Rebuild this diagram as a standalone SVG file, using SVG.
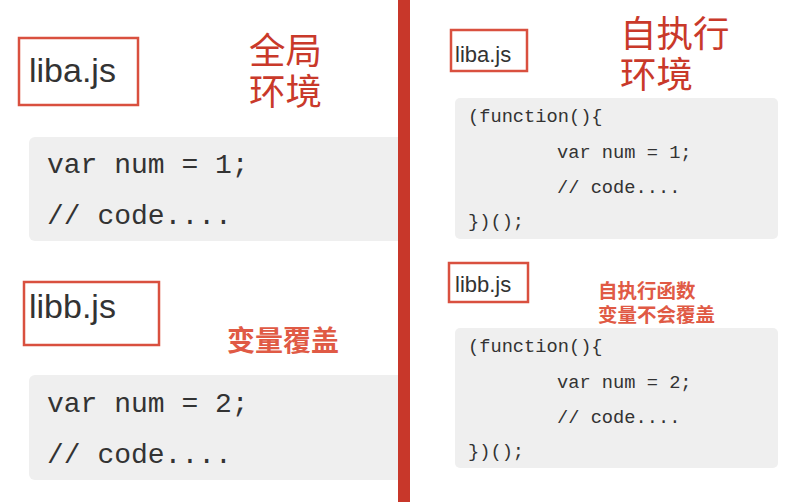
<svg xmlns="http://www.w3.org/2000/svg" width="798" height="502" viewBox="0 0 798 502">
<style>
.lbl{fill:none;stroke:#d9503f;stroke-width:2.5}
.file{font-family:"Liberation Sans",Arial,sans-serif;fill:#333}
.code{fill:#efefef}
.mono{font-family:"Liberation Mono","Courier New",monospace;fill:#333}
.big{font-family:"Liberation Sans","Noto Sans CJK SC",sans-serif;fill:#c9392a}
.note{font-family:"Liberation Sans","Noto Sans CJK SC",sans-serif;fill:#e05a45;font-weight:bold}
</style>
<rect width="798" height="502" fill="#fff"/>
<g id="left-liba">
<rect class="lbl" x="19" y="38" width="119" height="67"/>
<text class="file" x="29" y="82" font-size="34">liba.js</text>
</g>
<g id="left-title">
<text class="big" x="249" y="64" font-size="36.5">全局</text>
<text class="big" x="249" y="105" font-size="36.5">环境</text>
</g>
<g id="left-code1">
<rect class="code" x="29" y="137" width="375" height="104" rx="6"/>
<text class="mono" x="47" y="173" font-size="28">var num = 1;</text>
<text class="mono" x="47" y="224" font-size="28">// code....</text>
</g>
<g id="left-libb">
<rect class="lbl" x="24" y="282" width="135" height="63"/>
<text class="file" x="29" y="318" font-size="34">libb.js</text>
</g>
<g id="left-note">
<text class="note" x="227" y="351" font-size="28">变量覆盖</text>
</g>
<g id="left-code2">
<rect class="code" x="29" y="375" width="375" height="105" rx="6"/>
<text class="mono" x="47" y="412" font-size="28">var num = 2;</text>
<text class="mono" x="47" y="463" font-size="28">// code....</text>
</g>
<g id="divider">
<rect x="398" y="0" width="12" height="502" fill="#c8372a"/>
</g>
<g id="right-liba">
<rect class="lbl" x="451" y="30" width="76" height="41"/>
<text class="file" x="455" y="62" font-size="22">liba.js</text>
</g>
<g id="right-title">
<text class="big" x="620" y="47" font-size="36.5">自执行</text>
<text class="big" x="620" y="88" font-size="36.5">环境</text>
</g>
<g id="right-code1">
<rect class="code" x="455" y="98" width="323" height="141" rx="5"/>
<text class="mono" x="468" y="122" font-size="18.7">(function(){</text>
<text class="mono" x="557" y="158" font-size="18.7">var num = 1;</text>
<text class="mono" x="557" y="193" font-size="18.7">// code....</text>
<text class="mono" x="468" y="227" font-size="18.7">})();</text>
</g>
<g id="right-libb">
<rect class="lbl" x="449" y="263" width="79" height="39"/>
<text class="file" x="455" y="292" font-size="22">libb.js</text>
</g>
<g id="right-note">
<text class="note" x="598" y="298" font-size="19.5">自执行函数</text>
<text class="note" x="598" y="322" font-size="19.5">变量不会覆盖</text>
</g>
<g id="right-code2">
<rect class="code" x="455" y="328" width="323" height="140" rx="5"/>
<text class="mono" x="468" y="352" font-size="18.7">(function(){</text>
<text class="mono" x="557" y="388" font-size="18.7">var num = 2;</text>
<text class="mono" x="557" y="423" font-size="18.7">// code....</text>
<text class="mono" x="468" y="457" font-size="18.7">})();</text>
</g>
</svg>
